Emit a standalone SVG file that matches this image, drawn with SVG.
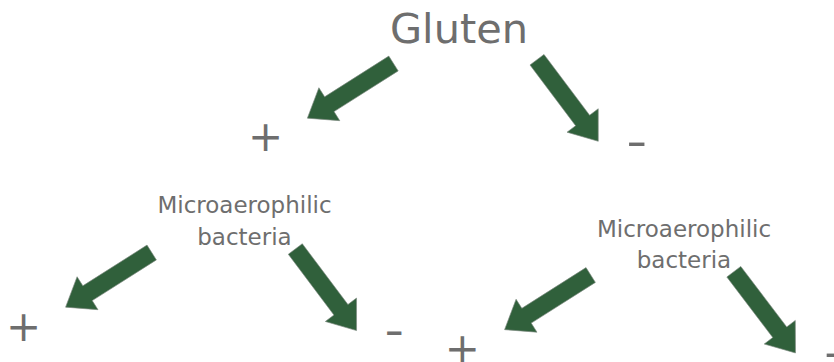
<svg xmlns="http://www.w3.org/2000/svg" xmlns:xlink="http://www.w3.org/1999/xlink" width="834" height="362" viewBox="0 0 834 362">
<style>
.t{font-family:"DejaVu Sans","Verdana",sans-serif;fill:#6e6e6e;text-anchor:middle}
.big{font-size:41.5px}
.sym{font-size:42px}
.lbl{font-size:23px}
.arr{fill:#30603b;stroke:#7d8a80;stroke-width:0.6}
</style>
<defs>
<path id="arrow" class="arr" d="M0,-8.75 L76,-8.75 L76,-19.5 L102,0 L76,19.5 L76,8.75 L0,8.75 Z"/>
</defs>
<rect width="834" height="362" fill="#ffffff"/>
<g id="connectors">
<use xlink:href="#arrow" href="#arrow" transform="translate(393.5,63.5) rotate(147.6)"/>
<use xlink:href="#arrow" href="#arrow" transform="translate(537,59.7) rotate(53.1)"/>
<use xlink:href="#arrow" href="#arrow" transform="translate(151.7,252.5) rotate(147.6)"/>
<use xlink:href="#arrow" href="#arrow" transform="translate(295.3,249) rotate(53.1)"/>
<use xlink:href="#arrow" href="#arrow" transform="translate(590.7,275) rotate(147.6)"/>
<use xlink:href="#arrow" href="#arrow" transform="translate(733.8,271.7) rotate(52.8)"/>
</g>
<g id="gluten"><text class="t big" x="459" y="43">Gluten</text></g>
<g id="plus1"><text class="t sym" x="265.5" y="151.4">+</text></g>
<g id="minus1"><text class="t sym" x="636.7" y="155.7" textLength="21" lengthAdjust="spacingAndGlyphs">-</text></g>
<g id="bact1"><text class="t lbl" x="244.5" y="213.3">Microaerophilic</text><text class="t lbl" x="244.5" y="244.5">bacteria</text></g>
<g id="bact2"><text class="t lbl" x="684" y="236.5">Microaerophilic</text><text class="t lbl" x="684" y="267.5">bacteria</text></g>
<g id="plus2"><text class="t sym" x="23.7" y="340.7">+</text></g>
<g id="minus2"><text class="t sym" x="394.2" y="344.9" textLength="19.5" lengthAdjust="spacingAndGlyphs">-</text></g>
<g id="plus3"><text class="t sym" x="462.3" y="363">+</text></g>
<g id="minus3"><text class="t sym" x="834" y="366.7" textLength="20" lengthAdjust="spacingAndGlyphs">-</text></g>
</svg>
